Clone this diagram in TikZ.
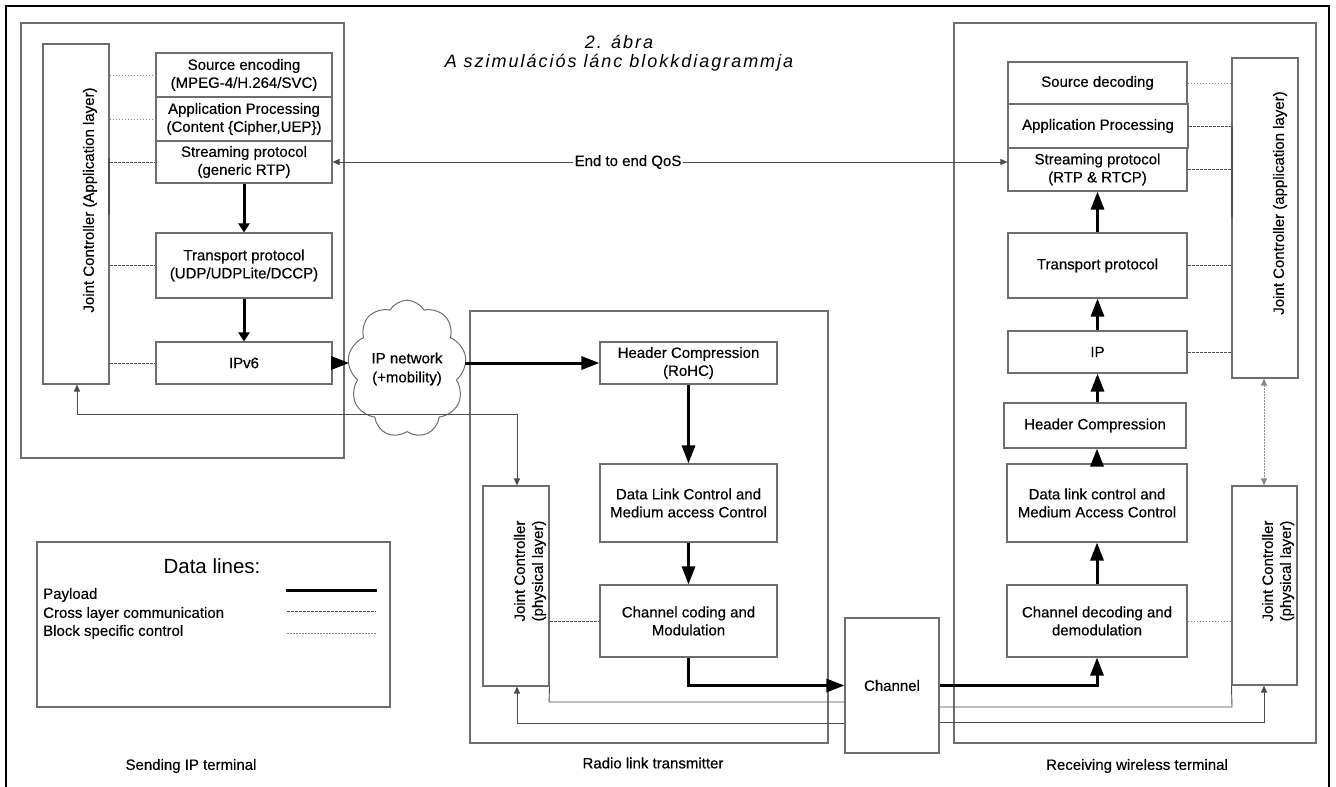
\documentclass[tikz,border=0pt]{standalone}
\usepackage{fontspec}
\setmainfont{Liberation Sans}
\newfontfamily\heavysans{Liberation Sans}[FakeBold=0.35]
\usetikzlibrary{arrows.meta,shapes.symbols}
\definecolor{boxgray}{HTML}{6E6E6E}
\definecolor{dotgray}{HTML}{8A8A8A}
\definecolor{crossgray}{HTML}{505050}
\begin{document}
\begin{tikzpicture}[x=1pt,y=-1pt,
  blk/.style={draw=boxgray, line width=1.1pt, align=center, inner sep=0pt, font=\heavysans\fontsize{15}{18}\selectfont},
  region/.style={draw=boxgray, line width=1.1pt, inner sep=0pt},
  lbl/.style={font=\heavysans\fontsize{15}{18}\selectfont, inner sep=0pt, align=center},
  vlbl/.style={font=\heavysans\fontsize{15}{18}\selectfont, inner sep=0pt, align=center, rotate=90},
  payload/.style={line width=3pt, -{Triangle[length=18pt,width=13pt]}},
  payloadsm/.style={line width=3pt, -{Triangle[length=9pt,width=11pt]}},
  ctl/.style={draw=black!70, line width=0.9pt},
  tipend/.style={-{Triangle[length=7pt,width=6pt]}},
  tipstart/.style={{Triangle[length=7pt,width=6pt]}-},
  tipboth/.style={{Triangle[length=7pt,width=6pt]}-{Triangle[length=7pt,width=6pt]}},
  blockline/.style={draw=dotgray, line width=0.8pt, dash pattern=on 1.5pt off 1.5pt},
  crossline/.style={draw=crossgray, line width=1pt, dash pattern=on 3pt off 1pt},
]
\useasboundingbox (0,0) rectangle (1336,787);
\fill[white] (0,0) rectangle (1336,787);
% outer frame
\draw[black, line width=1.5pt] (6,800) -- (6,6) -- (1329,6) -- (1329,800);

% title
\node[font={\fontsize{18}{19}\selectfont\itshape\addfontfeatures{LetterSpace=11}}, inner sep=0pt, align=center] (title) at (619,53) {2. ábra\\A szimulációs lánc blokkdiagrammja};

% region boxes
\node[region, minimum width=323pt, minimum height=435pt] (sendT) at (182.5,240.5) {};
\node[region, minimum width=358pt, minimum height=432pt] (radioT) at (649,527) {};
\node[region, minimum width=362pt, minimum height=720pt] (recvT) at (1135,383) {};
\node[lbl] (sendL) at (191,766) {Sending IP terminal};
\node[lbl] (radioL) at (653,763) {Radio link transmitter};
\node[lbl] (recvL) at (1137,766) {Receiving wireless terminal};

% sending terminal
\node[blk, minimum width=66pt, minimum height=340pt] (jcA) at (76,214) {};
\node[vlbl] (jcAt) at (90,200) {Joint Controller (Application layer)};
\node[blk, minimum width=176pt, minimum height=44pt] (srcEnc) at (244,75) {Source encoding\\(MPEG-4/H.264/SVC)};
\node[blk, minimum width=176pt, minimum height=44pt] (appProc) at (244,119) {Application Processing\\(Content \{Cipher,UEP\})};
\node[blk, minimum width=176pt, minimum height=42pt] (stream) at (244,162) {Streaming protocol\\(generic RTP)};
\node[blk, minimum width=176pt, minimum height=65pt] (transp) at (244,265.5) {Transport protocol\\(UDP/UDPLite/DCCP)};
\node[blk, minimum width=176pt, minimum height=42pt] (ipv6) at (244,363) {IPv6};

% cloud
\node[cloud, draw=boxgray, line width=1pt, cloud puffs=9, cloud puff arc=120, aspect=0.8, minimum width=95pt, minimum height=118pt, inner sep=0pt, align=center, font=\heavysans\fontsize{15}{19}\selectfont] (cloud) at (407,369) {IP network\\(+mobility)};

% radio link transmitter
\node[blk, minimum width=177pt, minimum height=42pt] (hc) at (688.5,363) {Header Compression\\(RoHC)};
\node[blk, minimum width=177pt, minimum height=78pt] (dlc) at (688.5,503) {Data Link Control and\\Medium access Control};
\node[blk, minimum width=177pt, minimum height=72pt] (ccm) at (688.5,621) {Channel coding and\\Modulation};
\node[blk, minimum width=66pt, minimum height=200pt] (jcP) at (516,586) {};
\node[vlbl] (jcPt) at (530,571) {Joint Controller\\(physical layer)};

% channel
\node[blk, minimum width=94pt, minimum height=135pt] (channel) at (892,685.5) {Channel};

% receiving terminal
\node[blk, minimum width=179pt, minimum height=42pt] (srcDec) at (1097.5,83) {Source decoding};
\node[blk, minimum width=180pt, minimum height=44pt] (appProc2) at (1098,126) {Application Processing};
\node[blk, minimum width=179pt, minimum height=43pt] (stream2) at (1097.5,169.5) {Streaming protocol\\(RTP \& RTCP)};
\node[blk, minimum width=179pt, minimum height=65pt] (transp2) at (1097.5,265.5) {Transport protocol};
\node[blk, minimum width=179pt, minimum height=42pt] (ip2) at (1097.5,352) {IP};
\node[blk, minimum width=182pt, minimum height=45pt] (hc2) at (1095,425.5) {Header Compression};
\node[blk, minimum width=180pt, minimum height=78pt] (dlc2) at (1097,503) {Data link control and\\Medium Access Control};
\node[blk, minimum width=180pt, minimum height=72pt] (cdd) at (1097,621) {Channel decoding and\\demodulation};
\node[blk, minimum width=66pt, minimum height=320pt] (jcA2) at (1265,218) {};
\node[vlbl] (jcA2t) at (1280,203) {Joint Controller (application layer)};
\node[blk, minimum width=65pt, minimum height=199pt] (jcP2) at (1264.5,585.5) {};
\node[vlbl] (jcP2t) at (1278,571) {Joint Controller\\(physical layer)};

% legend
\node[region, minimum width=353pt, minimum height=165pt] (legend) at (213.5,624.5) {};
\node[font=\fontsize{20.5}{24}\selectfont, inner sep=0pt] (legT) at (212,566) {Data lines:};
\node[lbl, anchor=west] (legP) at (43,595) {Payload};
\node[lbl, anchor=west] (legC) at (43,614) {Cross layer communication};
\node[lbl, anchor=west] (legB) at (43,632) {Block specific control};
\coordinate (lp1) at (286,590); \coordinate (lp2) at (377,590);
\coordinate (lc1) at (287,611); \coordinate (lc2) at (376,611);
\coordinate (lb1) at (287,633); \coordinate (lb2) at (376,633);
\draw[line width=3pt] (lp1) -- (lp2);
\draw[crossline] (lc1) -- (lc2);
\draw[blockline] (lb1) -- (lb2);

% payload path
\draw[payloadsm] (stream.south) -- (transp.north);
\draw[payloadsm] (transp.south) -- (ipv6.north);
\draw[payload] (ipv6.east) -- (cloud.west |- ipv6.east);
\draw[payload] (cloud.east |- hc.west) -- (hc.west);
\draw[payload] (hc.south) -- (dlc.north);
\draw[payload] (dlc.south) -- (ccm.north);
\draw[payload] (ccm.south) |- (channel.west);
\draw[payload] (channel.east) -| (cdd.south);
\draw[payload] (cdd.north) -- (dlc2.south);
\draw[payload] (dlc2.north) -- (dlc2.north |- hc2.south);
\draw[payload] (ip2.south |- hc2.north) -- (ip2.south);
\draw[payload] (ip2.north) -- (transp2.south);
\draw[payload] (transp2.north) -- (stream2.south);

% end to end QoS
\draw[ctl, tipboth] (stream.east) -- (stream2.west |- stream.east);
\node[lbl, fill=white, inner xsep=2pt, inner ysep=1pt] (qos) at (628,162) {End to end QoS};

% feedback line between controllers
\coordinate (fbL) at (77,414);
\coordinate (fbR) at (517,414);
\draw[ctl, tipboth] (jcA.south -| fbL) -- (fbL) -- (fbR) -- (jcP.north -| fbR);

% channel to physical controllers
\coordinate (c1) at (549,702);
\coordinate (c2) at (517,723);
\coordinate (c3) at (1232,707);
\coordinate (c4) at (1264,722);
\draw[ctl] (jcP.south east) -- (c1) -- (channel.west |- c1);
\draw[ctl, tipstart] (jcP.south -| c2) -- (c2) -- (channel.west |- c2);
\draw[ctl] (jcP2.south west) -- (c3) -- (channel.east |- c3);
\draw[ctl, tipstart] (jcP2.south -| c4) -- (c4) -- (channel.east |- c4);

% controller to controller (receiver)
\coordinate (jj) at (1264,400);
\draw[blockline, tipboth] (jcA2.south -| jj) -- (jcP2.north -| jj);

% control lines, sending terminal
\draw[blockline] (jcA.east |- srcEnc.west) -- (srcEnc.west);
\draw[blockline] (jcA.east |- appProc.west) -- (appProc.west);
\draw[crossline] (jcA.east |- stream.west) -- (stream.west);
\draw[crossline] (jcA.east |- transp.west) -- (transp.west);
\draw[crossline] (jcA.east |- ipv6.west) -- (ipv6.west);
\coordinate (ea1) at (109,158); \coordinate (ea2) at (109,215);
\draw[crossgray, line width=1.6pt] (ea1) -- (ea2);

% control lines, receiving terminal
\draw[blockline] (srcDec.east) -- (jcA2.west |- srcDec.east);
\draw[crossline] (appProc2.east) -- (jcA2.west |- appProc2.east);
\draw[crossline] (stream2.east) -- (jcA2.west |- stream2.east);
\draw[crossline] (transp2.east) -- (jcA2.west |- transp2.east);
\draw[crossline] (ip2.east) -- (jcA2.west |- ip2.east);
\coordinate (eb1) at (1232,127); \coordinate (eb2) at (1232,217);
\draw[crossgray, line width=1.6pt] (eb1) -- (eb2);

% physical layer control lines
\draw[crossline] (jcP.east |- ccm.west) -- (ccm.west);
\draw[blockline] (cdd.east) -- (jcP2.west |- cdd.east);
\end{tikzpicture}
\end{document}
